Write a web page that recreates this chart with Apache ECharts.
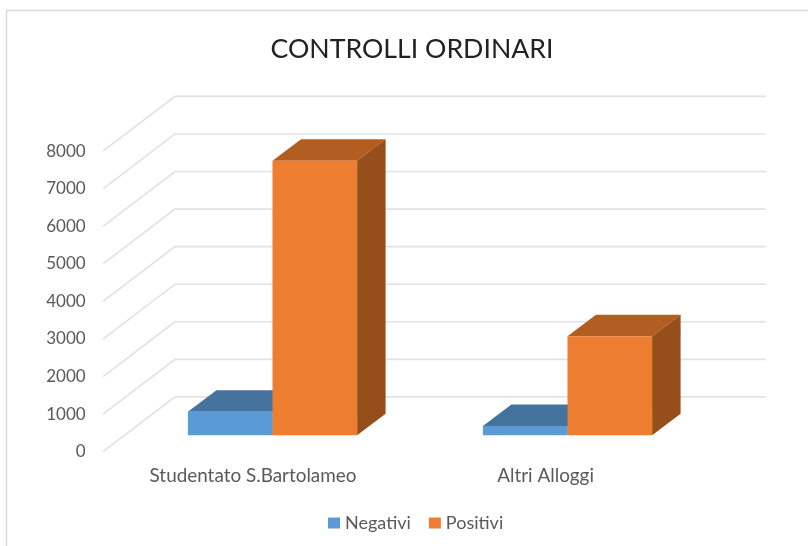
<!DOCTYPE html>
<html>
<head>
<meta charset="utf-8">
<style>html,body{margin:0;padding:0;background:#fff}#c{width:808px;height:546px}</style>
<script src="https://cdn.jsdelivr.net/npm/echarts@6/dist/echarts.min.js"></script>
</head>
<body>
<div id="c"></div>
<script>
const titleText = 'CONTROLLI ORDINARI';
const categories = ['Studentato S.Bartolameo', 'Altri Alloggi'];
const negativi = [630, 250];
const positivi = [7310, 2640];
const yTicks = [0, 1000, 2000, 3000, 4000, 5000, 6000, 7000, 8000];

const FONT = 'Lato, "Open Sans", sans-serif';
const GRID_LEFT = 106.7, BAND = 292.6;
const barShiftX = [19.5, 21.9], barShiftY = -16.4;
const BAR_W = 84.6, DEPTH_X = 28.5, DEPTH_Y = -21.5;

function gridItem(params, api) {
  const p = api.coord([0, api.value(1)]);
  const x0 = p[0] - api.size([1, 0])[0] / 2 - 3.7, y0 = p[1];
  return {
    type: 'polyline', silent: true,
    shape: { points: [[x0, y0], [x0 + 72, y0 - 54.8], [x0 + 663, y0 - 54.8]] },
    style: { fill: null, stroke: '#E2E2E2', lineWidth: 1.6 }
  };
}
function barItem(slot, front, top, side) {
  return function (params, api) {
    const i = api.value(0);
    const c = api.coord([i, api.value(1)]), b = api.coord([i, 0]);
    const xl = c[0] + barShiftX[i] + (slot - 1) * BAR_W, xr = xl + BAR_W;
    const yt = c[1] + barShiftY, yb = b[1] + barShiftY;
    return {
      type: 'group',
      children: [
        { type: 'polygon', shape: { points: [[xl, yt], [xr, yt], [xr + DEPTH_X, yt + DEPTH_Y], [xl + DEPTH_X, yt + DEPTH_Y]] }, style: { fill: top } },
        { type: 'polygon', shape: { points: [[xr, yt], [xr + DEPTH_X, yt + DEPTH_Y], [xr + DEPTH_X, yb + DEPTH_Y], [xr, yb]] }, style: { fill: side } },
        { type: 'rect', shape: { x: xl, y: yt, width: BAR_W, height: yb - yt }, style: { fill: front } }
      ]
    };
  };
}

const chart = echarts.init(document.getElementById('c'), null, { renderer: 'canvas' });
chart.setOption({
  animation: false,
  backgroundColor: '#fff',
  title: {
    text: titleText, left: 407, top: 31, textAlign: 'center',
    textStyle: { fontFamily: FONT, fontSize: 26.7, fontWeight: 'normal', color: '#222' }
  },
  legend: {
    data: ['Negativi', 'Positivi'], left: 323, top: 509, icon: 'rect',
    itemWidth: 12, itemHeight: 11, itemGap: 18, selectedMode: false,
    textStyle: { fontFamily: FONT, fontSize: 18, color: '#595959' }
  },
  grid: { left: GRID_LEFT, width: BAND * 2, top: 151.2, height: 300.5 },
  xAxis: {
    type: 'category', data: categories,
    axisLine: { show: false }, axisTick: { show: false }, splitLine: { show: false },
    axisLabel: { margin: 15, fontFamily: FONT, fontSize: 18.9, color: '#595959' }
  },
  yAxis: {
    type: 'value', min: 0, max: 8000, interval: 1000,
    axisLine: { show: false }, axisTick: { show: false }, splitLine: { show: false },
    axisLabel: { margin: 21, fontFamily: FONT, fontSize: 17, color: '#595959', formatter: v => String(v), verticalAlign: 'middle', padding: [0, 0, 3, 0] }
  },
  graphic: [{
    type: 'polyline', silent: true,
    shape: { points: [[6.5, 546], [6.5, 10.5], [808, 10.5]] },
    style: { fill: null, stroke: '#D9D9D9', lineWidth: 1.5 }
  }],
  series: [
    { type: 'custom', name: 'griglia', clip: false, z: 1, silent: true,
      data: yTicks.map(t => [0, t]), renderItem: gridItem, encode: { x: 0, y: 1 } },
    { type: 'custom', name: 'Negativi', clip: false, z: 2, itemStyle: { color: '#5B9BD5' },
      data: negativi.map((v, i) => [i, v]), encode: { x: 0, y: 1 },
      renderItem: barItem(0, '#5B9BD5', '#44739E', '#386085') },
    { type: 'custom', name: 'Positivi', clip: false, z: 3, itemStyle: { color: '#ED7D31' },
      data: positivi.map((v, i) => [i, v]), encode: { x: 0, y: 1 },
      renderItem: barItem(1, '#ED7D31', '#B25D21', '#964F1B') }
  ]
});
</script>
</body>
</html>
